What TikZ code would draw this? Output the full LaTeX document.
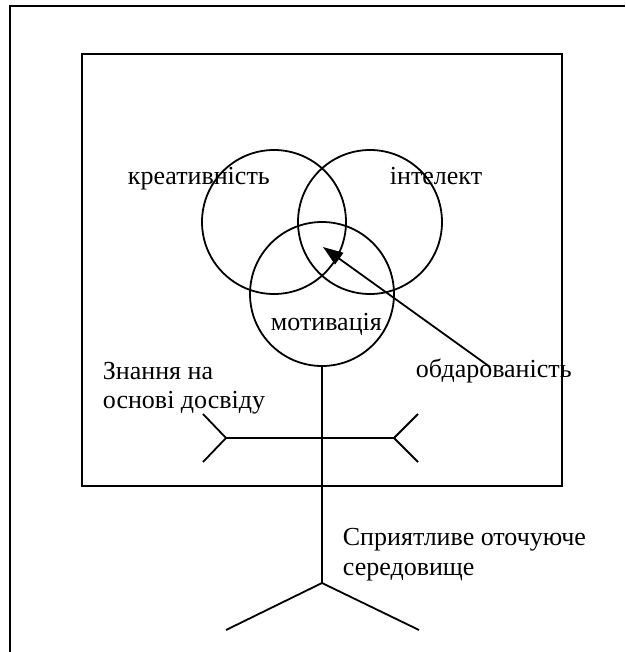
\documentclass[tikz,border=0pt]{standalone}
\usepackage{fontspec}
\setmainfont{Liberation Serif}
\usetikzlibrary{arrows.meta}
\begin{document}
\begin{tikzpicture}[x=1pt,y=-1pt,line width=1.8pt,
  ring/.style={draw,circle,minimum size=144pt,inner sep=0pt},
  lbl/.style={inner sep=0pt,anchor=base west,font=\fontsize{26}{30}\selectfont},
  box/.style={draw,minimum width=480pt,minimum height=432pt,inner sep=0pt}]
\useasboundingbox (0,0) rectangle (625,652);
% outer frame (open on right and bottom)
\draw[line width=2.4pt] (625,6) -- (10,6) -- (10,652);
% inner frame
\node[box] (frame) at (322,270) {};
% circles
\node[ring] (kre) at (274,222) {};
\node[ring] (int) at (370,222) {};
\node[ring] (mot) at (322,294) {};
% labels
\node[lbl] (tkre) at (127,185) {креативність};
\node[lbl] (tint) at (389,185) {інтелект};
\node[lbl] (tmot) at (270,330) {мотивація};
\node[lbl] (tobd) at (415,377) {обдарованість};
\node[lbl] (tzn1) at (102,379) {Знання на};
\node[lbl] (tzn2) at (102,408) {основі досвіду};
\node[lbl] (tsp1) at (342,545) {Сприятливе оточуюче};
\node[lbl] (tsp2) at (342,575) {середовище};
% stick figure
\coordinate (hip) at (322,583);
\coordinate (lh) at (226,438);
\coordinate (rh) at (394,438);
\coordinate (lh1) at (203,414);
\coordinate (lh2) at (203,462);
\coordinate (rh1) at (418,414);
\coordinate (rh2) at (418,462);
\coordinate (lf) at (226,630);
\coordinate (rf) at (419,630);
\draw (mot.south) -- (hip);
\draw (lh) -- (rh);
\draw (lh1) -- (lh) -- (lh2);
\draw (rh1) -- (rh) -- (rh2);
\draw (lf) -- (hip) -- (rf);
% arrow
\coordinate (astart) at (490,367);
\coordinate (atip) at (323,247);
\draw[-{Triangle[length=20pt,width=14pt]}] (astart) -- (atip);
\end{tikzpicture}
\end{document}
